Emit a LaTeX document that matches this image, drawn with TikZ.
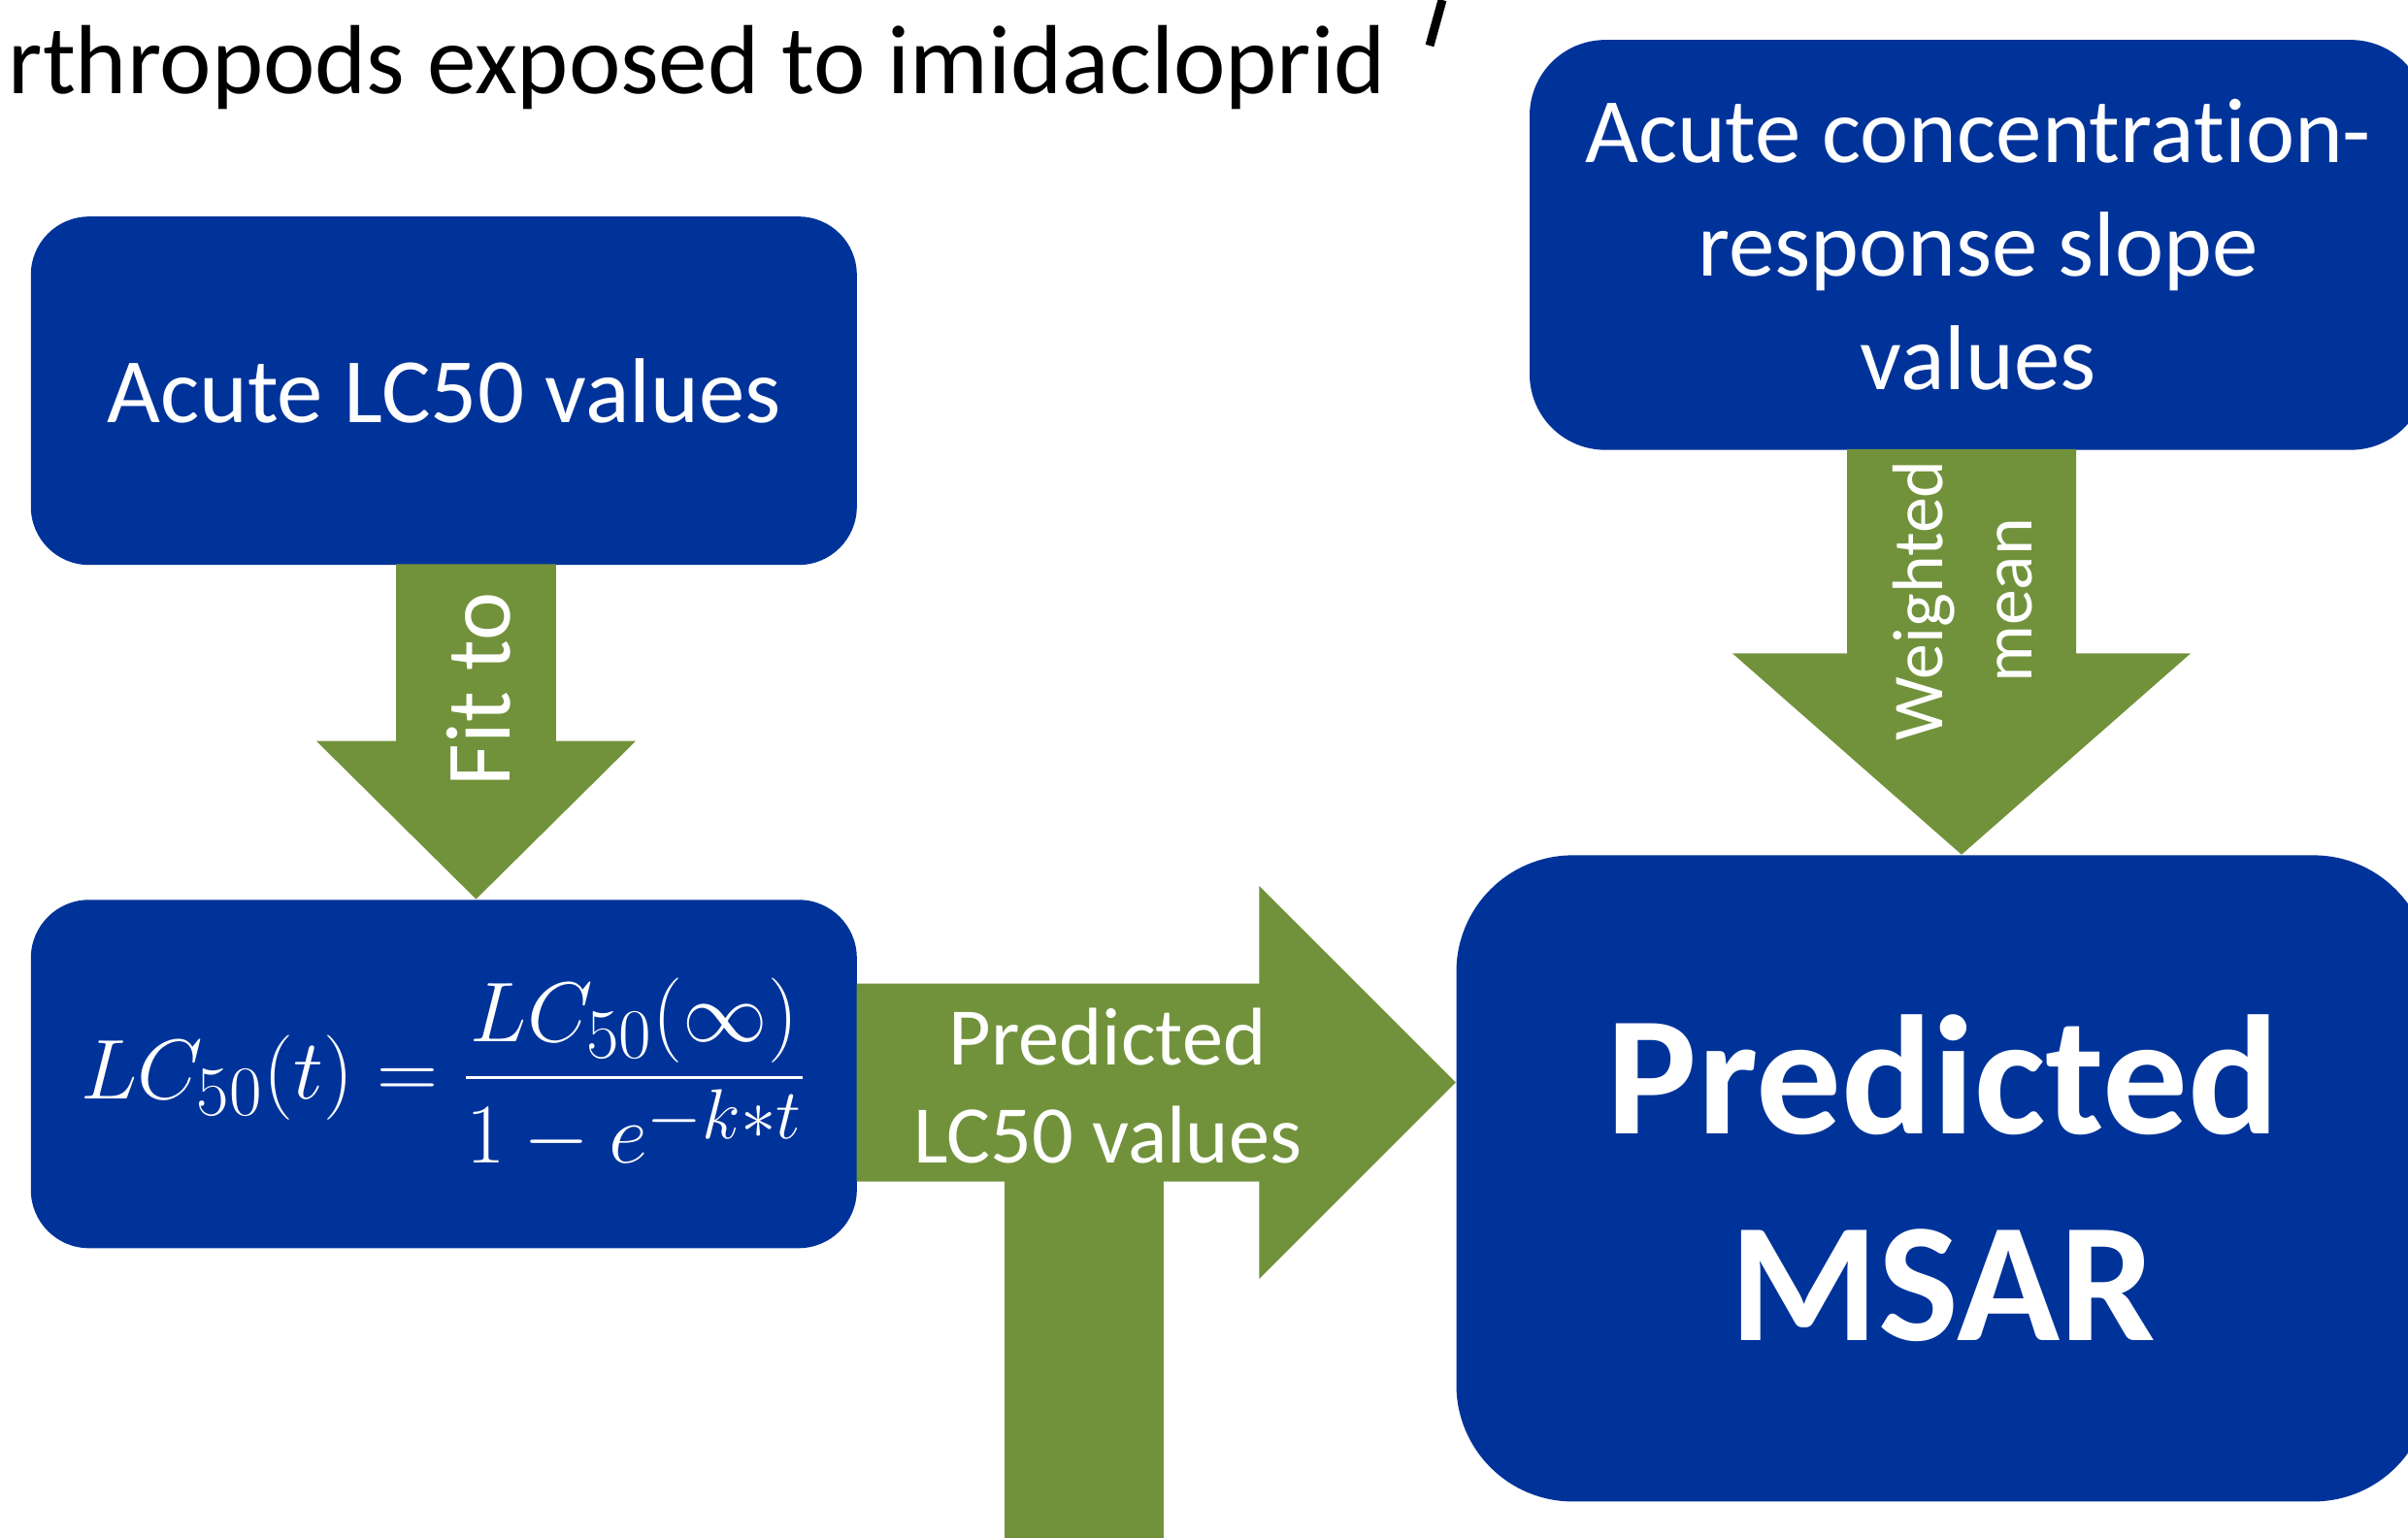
\documentclass[tikz,border=0pt]{standalone}
\usepackage{amsmath}
\usepackage[no-math]{fontspec}
\setmainfont{Carlito}[Ligatures=NoCommon]
\usetikzlibrary{calc}
\definecolor{boxblue}{RGB}{0,51,153}
\definecolor{arrowgreen}{RGB}{113,146,59}

\begin{document}
\begin{tikzpicture}[x=1cm, y=-1cm]
\tikzstyle{bluebox}=[draw=none, fill=boxblue, text=white, align=center, inner sep=0pt]
\tikzstyle{greenarrow}=[fill=arrowgreen]
\tikzstyle{arrowtext}=[text=white, align=center, inner sep=0pt]
\useasboundingbox (0,0) rectangle (24.81,15.85);

% heading, cut off by the top of the slide
\draw[line width=0.09cm] (14.86,0) -- (14.73,0.47);
\node[anchor=base west, inner sep=0pt, font=\fontsize{28.8}{34}\selectfont] (heading) at (0.08,0.97) {rthropods exposed to imidacloprid};

\node[bluebox, rounded corners=0.6cm, minimum width=8.51cm, minimum height=3.59cm, font=\fontsize{27}{32}\selectfont] (acute) at (4.573,4.027) {Acute LC50 values};
\node[bluebox, rounded corners=0.6cm, minimum width=8.51cm, minimum height=3.59cm, font=\fontsize{28}{33}\selectfont] (formula) at (4.573,11.068) {$\displaystyle LC_{50}(t)=\frac{LC_{50}(\infty)}{1-e^{-k*t}}$};
\node[bluebox, rounded corners=0.78cm, minimum width=9.24cm, minimum height=4.225cm, font=\fontsize{27}{33.3}\selectfont] (slope) at (20.38,2.524) {Acute concentration-\\response slope\\values};
\node[bluebox, rounded corners=1.2cm, minimum width=10.03cm, minimum height=6.66cm, font=\bfseries\fontsize{49.8}{60.5}\selectfont] (msar) at (20.02,12.144) {Predicted\\MSAR};

% fit arrow
\coordinate (fit tip) at ($(formula.north)+(0.332,0)$);
\fill[greenarrow] (fit tip) -- ++(-1.645,-1.629) -- ++(0.822,0) -- ++(0,-1.822) -- ++(1.646,0) -- ++(0,1.822) -- ++(0.822,0) -- cycle;
\node[arrowtext, rotate=90, font=\fontsize{27}{32}\selectfont] (fit label) at (4.93,7.105) {Fit to};

% predicted arrow
\coordinate (pred tip) at ($(msar.west)+(0,-0.989)$);
\fill[greenarrow] (pred tip) -- ++(-2.025,-2.025) -- ++(0,1.005) -- ++(-4.146,0) -- ++(0,2.04) -- ++(4.146,0) -- ++(0,1.005) -- cycle;
\fill[greenarrow] (10.348,12.1) rectangle (11.994,16);
\node[arrowtext, font=\fontsize{24}{29}\selectfont] (pred label) at (11.41,11.19) {Predicted\\LC50 values};

% weighted mean arrow
\coordinate (mean tip) at ($(msar.north)+(0.19,0)$);
\fill[greenarrow] (mean tip) -- ++(-2.36,-2.073) -- ++(1.18,0) -- ++(0,-2.105) -- ++(2.36,0) -- ++(0,2.105) -- ++(1.18,0) -- cycle;
\node[arrowtext, rotate=90, font=\fontsize{21}{26}\selectfont] (mean label) at (20.22,6.19) {Weighted\\mean};
\end{tikzpicture}
\end{document}
